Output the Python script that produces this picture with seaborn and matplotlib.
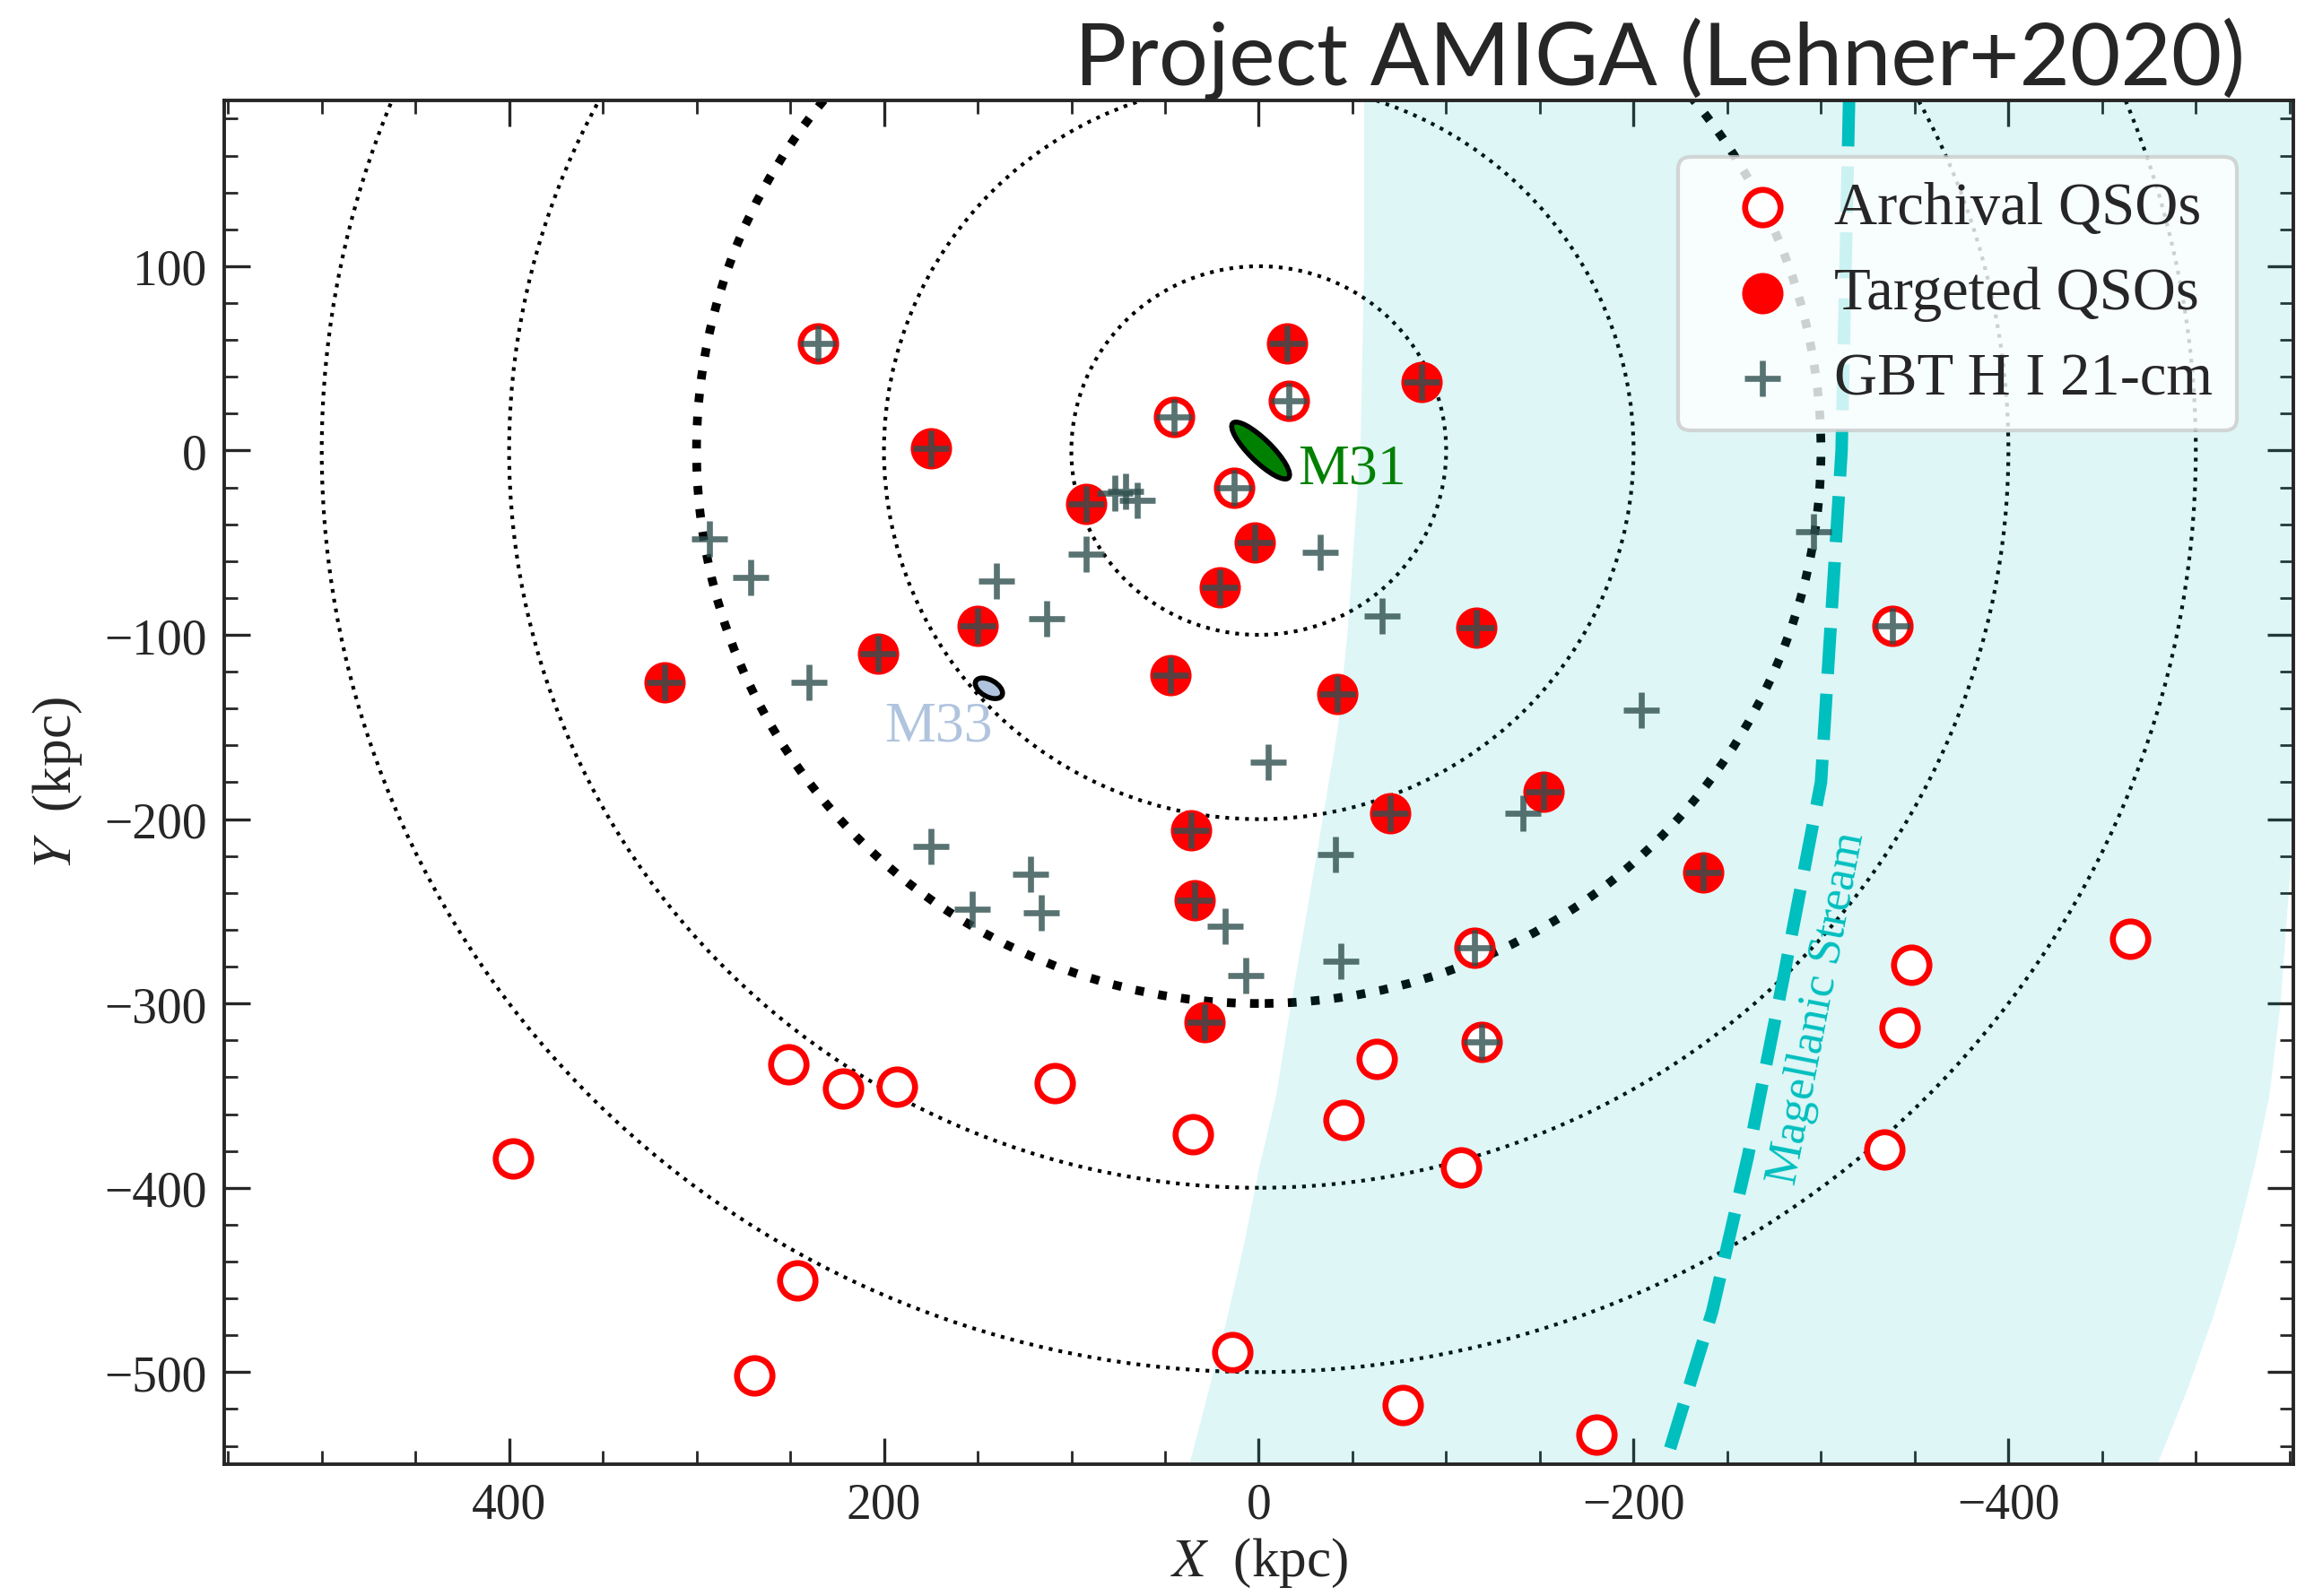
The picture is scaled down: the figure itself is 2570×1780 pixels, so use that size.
import numpy as np
import pandas as pd
import matplotlib
matplotlib.use('Agg')
import matplotlib.pyplot as plt
from matplotlib.patches import Circle, Ellipse
from matplotlib.ticker import MultipleLocator
import seaborn as sns

# archival QSOs (open circles); first seven also have GBT 21-cm data
arch_x = [235, -16, 45, 13, -338, -115, -119,
          251, 222, 193, 109, 35, -63, -45, -108, 398, 246, 269, 14, -77, -180,
          -348, -342, -334, -465]
arch_y = [58, 27, 18, -20, -95, -270, -321,
          -333, -346, -345, -343, -371, -330, -363, -389, -384, -450, -502, -489, -518, -534,
          -279, -313, -379, -265]
arch_21cm = [1] * 7 + [0] * 18

# targeted QSOs (filled circles), all with GBT 21-cm
tgt_x = [-15, -87, 175, 92, 2, 21, 150, 203, 317, 47, -42, -116, -152, -70, 36, 34, -237, 29]
tgt_y = [58, 37, 1, -29, -50, -74, -95, -110, -126, -122, -132, -96, -185, -197, -206, -244, -229, -310]

# GBT HI 21-cm pointings without a QSO
gbt_x = [293, 271, 240, 140, 113, 92, 77, 71, 65, -33, -66, -5, -204, -296,
         -141, -41, -44, 18, 7, 122, 116, 153, 175]
gbt_y = [-48, -69, -126, -71, -91, -56, -23, -22, -27, -55, -90, -169, -141, -44,
         -197, -219, -277, -258, -285, -230, -251, -249, -215]

# Magellanic Stream: centre line and band edges
ms_y = [190, 0, -180, -286, -383, -467, -553]
ms_x = [-315, -311, -300, -280, -261, -242, -216]
band_y = [190, 100, 0, -100, -150, -217, -300, -350, -389, -430, -470, -510, -553]
band_left = [-56, -56, -54, -47, -42, -31, -17, -9, 0, 8, 17, 27, 38]
band_right = [-600, -598, -590, -578, -565, -551, -545, -539, -531, -521, -509, -495, -478]

radii = [100, 200, 300, 400, 500]

sns.set_style('ticks')
plt.rcParams['font.family'] = ['Liberation Serif', 'DejaVu Serif']
plt.rcParams['mathtext.fontset'] = 'stix'

arch = pd.DataFrame({'x': arch_x, 'y': arch_y, 'hi': arch_21cm})
tgt = pd.DataFrame({'x': tgt_x, 'y': tgt_y})
gbt = pd.concat([pd.DataFrame({'x': gbt_x, 'y': gbt_y}),
                 arch[arch.hi == 1][['x', 'y']], tgt], ignore_index=True)

fig = plt.figure(figsize=(12.85, 8.905), dpi=200)
ax = fig.add_axes([0.0973, 0.0825, 0.8976, 0.8541])

for r in radii:
    lw = 3.5 if r == 300 else 1.5
    ax.add_patch(Circle((0, 0), r, fill=False, ls=':', lw=lw, color='k', zorder=1))

ax.fill_betweenx(band_y, band_left, band_right, color='c', alpha=0.13, lw=0, zorder=2)
ax.plot(ms_x, ms_y, ls='--', color='c', lw=5, zorder=2.5)
ax.text(-298, -302, 'Magellanic Stream', color='c', fontsize=19, rotation=79,
        ha='center', va='center', zorder=3)

ax.add_patch(Ellipse((-1, 0), 42, 12, angle=45, facecolor='green', edgecolor='k', lw=2, zorder=3))
ax.text(-21, -10, 'M31', color='green', fontsize=23, ha='left', va='center', zorder=3)
ax.add_patch(Ellipse((144, -129), 16, 9, angle=30, facecolor='lightsteelblue', edgecolor='k',
                     lw=2, zorder=3))
ax.text(171, -150, 'M33', color='lightsteelblue', fontsize=23, ha='center', va='center', zorder=3)

sns.scatterplot(data=arch, x='x', y='y', marker='o', s=202, facecolor='white',
                edgecolor='red', linewidth=2.4, label='Archival QSOs', ax=ax, zorder=4)
sns.scatterplot(data=tgt, x='x', y='y', marker='o', s=275, color='red',
                edgecolor='red', linewidth=0, label='Targeted QSOs', ax=ax, zorder=4)
sns.scatterplot(data=gbt, x='x', y='y', marker='+', s=207, color='darkslategray',
                alpha=0.8, linewidth=2.4, label='GBT H I 21-cm', ax=ax, zorder=5)

ax.set_xlim(552, -552)
ax.set_ylim(-550, 190)
ax.xaxis.set_major_locator(MultipleLocator(200))
ax.xaxis.set_minor_locator(MultipleLocator(50))
ax.yaxis.set_major_locator(MultipleLocator(100))
ax.yaxis.set_minor_locator(MultipleLocator(20))
ax.tick_params(which='both', direction='in', top=True, right=True, labelsize=20, pad=7)
ax.tick_params(which='major', length=10.5, width=1.2)
ax.tick_params(which='minor', length=5.5, width=1.0)
for sp in ax.spines.values():
    sp.set_linewidth(1.4)

ax.set_xlabel('$X$  (kpc)', fontsize=22, labelpad=3)
ax.set_ylabel('$Y$  (kpc)', fontsize=22, labelpad=8)

leg = ax.legend(loc='upper right', fontsize=24, borderaxespad=0.95, handletextpad=0.2,
                labelspacing=0.51, borderpad=0.4, framealpha=0.8, fancybox=True)
leg.get_frame().set_linewidth(1.5)
leg.get_frame().set_edgecolor('0.8')

fig.text(0.974, 0.9467, 'Project AMIGA (Lehner+2020)', fontsize=35, family='Lato',
         ha='right', va='baseline')

fig.savefig('out.png', dpi=200)
